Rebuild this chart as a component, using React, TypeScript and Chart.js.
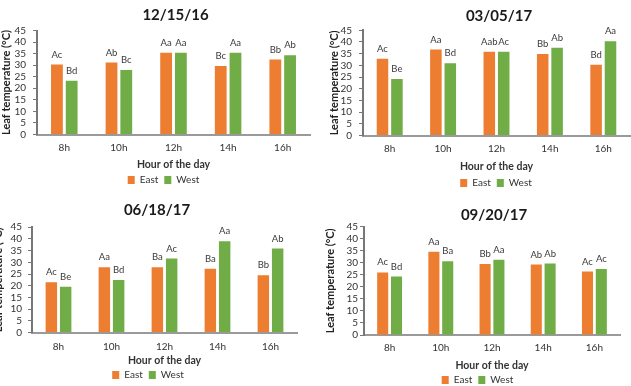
import { useEffect, useRef } from "react";
import { Chart, registerables } from "chart.js";

Chart.register(...registerables);

// Shared categories and axis settings
const hours = ["8h", "10h", "12h", "14h", "16h"];
const seriesNames = ["East", "West"];
const yMax = 45;
const yStep = 5;

// 12/15/16
const east1 = [30.3, 31.1, 35.4, 29.6, 32.4];
const west1 = [23.3, 27.9, 35.4, 35.4, 34.3];
const eastLetters1 = ["Ac", "Ab", "Aa", "Bc", "Bb"];
const westLetters1 = ["Bd", "Bc", "Aa", "Aa", "Ab"];

// 03/05/17
const east2 = [32.8, 36.8, 35.8, 34.9, 30.3];
const west2 = [24.2, 30.9, 35.8, 37.5, 40.3];
const eastLetters2 = ["Ac", "Aa", "Aab", "Bb", "Bd"];
const westLetters2 = ["Be", "Bd", "Ac", "Ab", "Aa"];

// 06/18/17
const east3 = [21.5, 27.9, 27.9, 27.2, 24.5];
const west3 = [19.6, 22.4, 31.6, 39.0, 35.9];
const eastLetters3 = ["Ac", "Aa", "Ba", "Ba", "Bb"];
const westLetters3 = ["Be", "Bd", "Ac", "Aa", "Ab"];

// 09/20/17
const east4 = [26.0, 34.6, 29.5, 29.3, 26.4];
const west4 = [24.3, 30.6, 31.3, 29.7, 27.4];
const eastLetters4 = ["Ac", "Aa", "Bb", "Ab", "Ac"];
const westLetters4 = ["Bd", "Ba", "Aa", "Ab", "Ac"];

const ORANGE = "#ED7D31";
const GREEN = "#70AD47";
const FONT = "Lato, 'Open Sans', sans-serif";

// Panel frames in page pixels: canvas origin/width, plot box, and text anchor lines
type Frame = {
  L: number; T: number; W: number;
  PL: number; PR: number; PT: number; PB: number;
  TY: number; TX: number; XY: number; AY: number; LY: number; LX: number;
  YX: number; TR: number;
};

const frame1: Frame = { L: 0, T: 0, W: 315, PL: 37, PR: 310, PT: 30.5, PB: 134.5, TY: 15, TX: 175.5, XY: 148, AY: 165, LY: 180, LX: 163.5, YX: 6, TR: 26 };
const frame2: Frame = { L: 315, T: 0, W: 316, PL: 363, PR: 630, PT: 30.3, PB: 135.5, TY: 16.5, TX: 499, XY: 148.3, AY: 166.5, LY: 183, LX: 496, YX: 334, TR: 352 };
const frame3: Frame = { L: -8, T: 190, W: 323, PL: 32, PR: 297, PT: 227.2, PB: 332.5, TY: 210, TX: 157, XY: 346.5, AY: 360.5, LY: 375, LX: 148, YX: -2, TR: 22 };
const frame4: Frame = { L: 315, T: 190, W: 316, PL: 364, PR: 620, PT: 226.7, PB: 335, TY: 215, TX: 494, XY: 348, AY: 365.5, LY: 380, LX: 477.5, YX: 330, TR: 358 };

const TITLE_SIZE = 15;
const TICK_SIZE = 10;
const YTITLE_SIZE = 11;
const XTITLE_SIZE = 10.5;
const LEGEND_SIZE = 10;
const LETTER_SIZE = 9.5;
const LEGEND_PAD = 6;
const TICK_LEN = 4;

// Letter annotations above each bar
const barLetters = {
  id: "barLetters",
  afterDatasetsDraw(chart: any, _args: any, opts: any) {
    const ctx = chart.ctx;
    ctx.save();
    ctx.font = `${LETTER_SIZE}px ${FONT}`;
    ctx.fillStyle = "#3a3a3a";
    ctx.textAlign = "center";
    ctx.textBaseline = "middle";
    chart.data.datasets.forEach((_ds: any, i: number) => {
      const meta = chart.getDatasetMeta(i);
      const letters: string[] = (opts.letters || [])[i] || [];
      meta.data.forEach((bar: any, j: number) => {
        if (letters[j]) ctx.fillText(letters[j], bar.x, bar.y - 10);
      });
    });
    ctx.restore();
  },
};

// Horizontal placement of the title and legend blocks
const placeBlocks = {
  id: "placeBlocks",
  afterLayout(chart: any, _args: any, opts: any) {
    const t = chart.titleBlock;
    if (t && opts.titleX != null) {
      const dx = opts.titleX - (t.left + t.right) / 2;
      t.left += dx;
      t.right += dx;
    }
    const l = chart.legend;
    if (l && opts.legendX != null) {
      const dx = opts.legendX - (l.left + l.right) / 2;
      l.left += dx;
      l.right += dx;
    }
  },
};

type PanelProps = {
  title: string;
  east: number[];
  west: number[];
  eastLetters: string[];
  westLetters: string[];
  f: Frame;
};

function Panel({ title, east, west, eastLetters, westLetters, f }: PanelProps) {
  const ref = useRef<HTMLCanvasElement | null>(null);

  const titleLH = TITLE_SIZE * 1.2;
  const tickLH = TICK_SIZE * 1.2;
  const yTitleLH = YTITLE_SIZE * 1.2;
  const xTitleLH = XTITLE_SIZE * 1.2;
  const itemH = LEGEND_SIZE;

  const padLeft = Math.max(0, f.YX - yTitleLH / 2 - f.L);
  const yWidth = f.PL - f.L - padLeft;
  const yTickPad = f.PL - TICK_LEN - f.TR;
  const padTop = f.TY - titleLH / 2 - f.T;
  const titlePadBottom = f.PT - (f.TY + titleLH / 2);
  const padRight = f.L + f.W - f.PR;
  const xTickPad = f.XY - f.PB - tickLH / 2;
  const legendTop = f.LY - LEGEND_PAD - itemH / 2;
  const xHeight = legendTop - f.PB;
  const xTitlePadBottom = legendTop - f.AY - xTitleLH / 2;
  const legendH = itemH + LEGEND_PAD + 10;
  const H = Math.ceil(legendTop + legendH - f.T);

  useEffect(() => {
    if (!ref.current) return;
    const chart = new Chart(ref.current, {
      type: "bar",
      data: {
        labels: hours,
        datasets: [
          { label: seriesNames[0], data: east, backgroundColor: ORANGE, borderWidth: 0, barPercentage: 0.8, categoryPercentage: 0.54 },
          { label: seriesNames[1], data: west, backgroundColor: GREEN, borderWidth: 0, barPercentage: 0.8, categoryPercentage: 0.54 },
        ],
      },
      options: {
        animation: false,
        responsive: false,
        devicePixelRatio: 1,
        layout: { padding: { left: padLeft, right: padRight, top: padTop, bottom: 0 } },
        scales: {
          x: {
            grid: { display: false, drawTicks: false },
            border: { display: true, color: "#9a9a9a", width: 2 },
            ticks: { padding: xTickPad, color: "#333", font: { family: FONT, size: TICK_SIZE } },
            title: {
              display: true,
              text: "Hour of the day",
              color: "#333",
              font: { family: FONT, size: XTITLE_SIZE, weight: "bold" },
              padding: { top: 0, bottom: xTitlePadBottom },
            },
            afterFit: (s: any) => { s.height = xHeight; },
          },
          y: {
            min: 0,
            max: yMax,
            ticks: {
              stepSize: yStep,
              autoSkip: false,
              padding: yTickPad,
              color: "#333",
              font: { family: FONT, size: TICK_SIZE },
            },
            grid: { drawOnChartArea: false, drawTicks: true, tickLength: TICK_LEN, color: "#777", lineWidth: 1 },
            border: { display: true, color: "#777", width: 2 },
            title: {
              display: true,
              text: "Leaf temperature (°C)",
              color: "#222",
              font: { family: FONT, size: YTITLE_SIZE, weight: "bold" },
              padding: 0,
            },
            afterFit: (s: any) => { s.width = yWidth; },
          },
        },
        plugins: {
          title: {
            display: true,
            text: title,
            fullSize: false,
            color: "#1a1a1a",
            font: { family: FONT, size: TITLE_SIZE, weight: "bold" },
            padding: { top: 0, bottom: titlePadBottom },
          },
          legend: {
            display: true,
            position: "bottom",
            fullSize: false,
            labels: {
              boxWidth: 7,
              boxHeight: 8,
              padding: LEGEND_PAD,
              color: "#333",
              font: { family: FONT, size: LEGEND_SIZE },
            },
          },
          tooltip: { enabled: false },
          barLetters: { letters: [eastLetters, westLetters] },
          placeBlocks: { titleX: f.TX - f.L, legendX: f.LX - f.L },
        } as any,
      },
      plugins: [barLetters, placeBlocks],
    });
    return () => chart.destroy();
  }, []);

  return (
    <canvas
      ref={ref}
      width={f.W}
      height={H}
      style={{ position: "absolute", left: f.L, top: f.T, width: f.W, height: H }}
    />
  );
}

export default function App() {
  return (
    <div
      style={{
        position: "fixed",
        left: 0,
        top: 0,
        width: 631,
        height: 386,
        overflow: "hidden",
        background: "#fff",
      }}
    >
      <Panel title="12/15/16" east={east1} west={west1} eastLetters={eastLetters1} westLetters={westLetters1} f={frame1} />
      <Panel title="03/05/17" east={east2} west={west2} eastLetters={eastLetters2} westLetters={westLetters2} f={frame2} />
      <Panel title="06/18/17" east={east3} west={west3} eastLetters={eastLetters3} westLetters={westLetters3} f={frame3} />
      <Panel title="09/20/17" east={east4} west={west4} eastLetters={eastLetters4} westLetters={westLetters4} f={frame4} />
    </div>
  );
}
